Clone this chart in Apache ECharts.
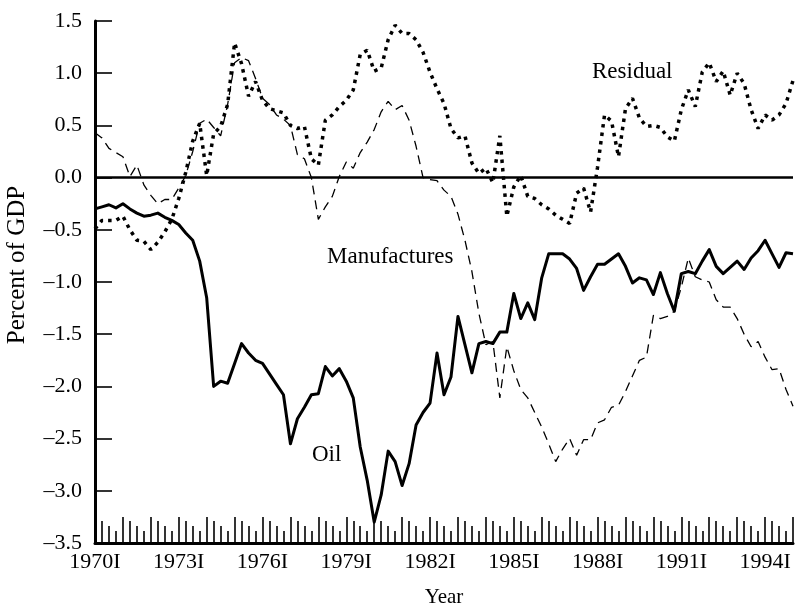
<!DOCTYPE html>
<html>
<head>
<meta charset="utf-8">
<script src="https://cdn.jsdelivr.net/npm/echarts@6/dist/echarts.min.js"></script>
<style>
html,body{margin:0;padding:0;background:#fff;}
#chart{width:804px;height:612px;}
</style>
</head>
<body>
<div id="chart"></div>
<script>
// Quarterly observations, 1970Q1 .. 1995Q1 (index 0..100)
var startYear = 1970;
var tickLabelYears = [1970, 1973, 1976, 1979, 1982, 1985, 1988, 1991, 1994];

var oil = [
 -0.30,-0.28,-0.26,-0.29,-0.25,-0.30,-0.34,-0.37,-0.36,-0.34,
 -0.38,-0.41,-0.45,-0.53,-0.60,-0.80,-1.15,-2.00,-1.95,-1.97,
 -1.78,-1.59,-1.68,-1.75,-1.78,-1.88,-1.98,-2.08,-2.55,-2.31,
 -2.20,-2.08,-2.07,-1.81,-1.90,-1.83,-1.95,-2.11,-2.58,-2.90,
 -3.30,-3.04,-2.62,-2.72,-2.95,-2.74,-2.37,-2.25,-2.16,-1.68,
 -2.08,-1.91,-1.33,-1.60,-1.87,-1.59,-1.57,-1.59,-1.48,-1.48,
 -1.11,-1.35,-1.20,-1.36,-0.96,-0.73,-0.73,-0.73,-0.78,-0.87,
 -1.08,-0.95,-0.83,-0.83,-0.78,-0.73,-0.85,-1.01,-0.96,-0.98,
 -1.12,-0.91,-1.11,-1.28,-0.92,-0.90,-0.92,-0.80,-0.69,-0.85,
 -0.92,-0.86,-0.80,-0.88,-0.77,-0.70,-0.60,-0.73,-0.86,-0.72,
 -0.73
];

var residual = [
 -0.49,-0.41,-0.41,-0.41,-0.37,-0.50,-0.60,-0.61,-0.69,-0.62,
 -0.52,-0.40,-0.20, 0.05, 0.35, 0.52, 0.02, 0.42, 0.49, 0.70,
  1.29, 1.09, 0.78, 0.92, 0.74, 0.66, 0.64, 0.62, 0.50, 0.47,
  0.49, 0.18, 0.12, 0.55, 0.60, 0.68, 0.74, 0.84, 1.18, 1.22,
  1.02, 1.05, 1.32, 1.46, 1.38, 1.38, 1.32, 1.20, 1.01, 0.85,
  0.71, 0.47, 0.38, 0.40, 0.14, 0.04, 0.09,-0.05, 0.40,-0.37,
 -0.09, 0.02,-0.18,-0.20,-0.26,-0.30,-0.36,-0.40,-0.44,-0.15,
 -0.10,-0.33, 0.10, 0.60, 0.54, 0.20, 0.66, 0.76, 0.57, 0.49,
  0.50, 0.48, 0.39, 0.35, 0.65, 0.84, 0.68, 1.01, 1.10, 0.92,
  1.02, 0.79, 1.00, 0.90, 0.65, 0.47, 0.60, 0.55, 0.60, 0.71,
  0.93
];

var manufactures = [
  0.43, 0.38, 0.28, 0.24, 0.20, 0.01, 0.12,-0.07,-0.17,-0.25,
 -0.21,-0.21,-0.10, 0.02, 0.25, 0.52, 0.56, 0.48, 0.40, 0.70,
  1.10, 1.15, 1.12, 0.95, 0.76, 0.70, 0.60, 0.56, 0.50, 0.22,
  0.18, 0.00,-0.40,-0.28,-0.18, 0.01, 0.15, 0.09, 0.24, 0.34,
  0.46, 0.63, 0.73, 0.65, 0.69, 0.55, 0.30, 0.00,-0.02,-0.03,
 -0.12,-0.18,-0.35,-0.60,-0.90,-1.30,-1.60,-1.57,-2.11,-1.62,
 -1.85,-2.03,-2.11,-2.25,-2.39,-2.55,-2.72,-2.60,-2.50,-2.66,
 -2.51,-2.51,-2.35,-2.32,-2.20,-2.18,-2.05,-1.90,-1.75,-1.72,
 -1.32,-1.35,-1.33,-1.28,-1.05,-0.77,-0.95,-0.98,-1.00,-1.17,
 -1.24,-1.24,-1.35,-1.50,-1.62,-1.57,-1.72,-1.84,-1.83,-2.03,
 -2.19
];

var seriesNames = ['Oil', 'Residual', 'Manufactures'];

var FONT = '"Liberation Serif", "DejaVu Serif", serif';
var nQ = oil.length;
var maxIdx = nQ - 1;

function toPairs(arr){ return arr.map(function(v,i){ return [i, v]; }); }
function ticksWhere(rem){
  var out = [];
  for (var i = 0; i <= maxIdx; i++) if (i % 4 === rem) out.push(i);
  return out;
}
var labelIdx = tickLabelYears.map(function(y){ return (y - startYear) * 4; });

function subAxis(rem, len){
  return {
    type: 'value', min: 0, max: maxIdx, position: 'bottom', offset: 0,
    axisLine: {show: false, onZero: false},
    splitLine: {show: false},
    axisLabel: {show: false},
    axisTick: {show: true, inside: true, length: len, customValues: ticksWhere(rem),
      lineStyle: {color: '#000', width: 1.6}}
  };
}

var chart = echarts.init(document.getElementById('chart'), null, {renderer: 'canvas'});
chart.setOption({
  backgroundColor: '#fff',
  animation: false,
  grid: {left: 95, right: 11, top: 21, bottom: 69, containLabel: false, outerBoundsMode: 'none'},
  xAxis: [
    {
      type: 'value', min: 0, max: maxIdx, position: 'bottom', offset: 0,
      name: 'Year', nameLocation: 'middle', nameGap: 44,
      nameTextStyle: {fontFamily: FONT, fontSize: 21, color: '#000'},
      axisLine: {show: true, onZero: false, lineStyle: {color: '#000', width: 3}},
      splitLine: {show: false},
      axisTick: {show: true, inside: true, length: 26, customValues: ticksWhere(0),
        lineStyle: {color: '#000', width: 1.6}},
      axisLabel: {show: true, customValues: labelIdx, margin: 8,
        fontFamily: FONT, fontSize: 22, color: '#000',
        formatter: function(v){ return (startYear + Math.round(v) / 4) + 'I'; }}
    },
    subAxis(1, 22),
    subAxis(2, 17),
    subAxis(3, 12)
  ],
  yAxis: {
    type: 'value', min: -3.5, max: 1.5, interval: 0.5,
    axisLine: {show: true, onZero: false, lineStyle: {color: '#000', width: 3}},
    splitLine: {show: false},
    axisTick: {show: true, inside: true, length: 17, lineStyle: {color: '#000', width: 1.6}},
    axisLabel: {margin: 13, fontFamily: FONT, fontSize: 22, color: '#000',
      formatter: function(v){ return (v < 0 ? '\u2013' : '') + Math.abs(v).toFixed(1); }}
  },
  series: [
    {
      name: seriesNames[0], type: 'line', data: toPairs(oil), symbol: 'none',
      lineStyle: {color: '#000', width: 3, join: 'round'},
      markLine: {silent: true, symbol: 'none', label: {show: false},
        lineStyle: {color: '#000', width: 2.6, type: 'solid'},
        data: [{yAxis: 0}]}
    },
    {
      name: seriesNames[1], type: 'line', data: toPairs(residual), symbol: 'none',
      lineStyle: {color: '#000', width: 3.5, type: [3.5, 5]}
    },
    {
      name: seriesNames[2], type: 'line', data: toPairs(manufactures), symbol: 'none',
      lineStyle: {color: '#000', width: 1.3, type: [9, 6]}
    }
  ],
  graphic: [
    {type: 'text', x: 17, y: 265, rotation: Math.PI / 2,
      style: {text: 'Percent of GDP', font: '25px ' + FONT, fill: '#000', align: 'center', verticalAlign: 'middle'}},
    {type: 'text', left: 592, top: 60, style: {text: 'Residual', font: '23px ' + FONT, fill: '#000'}},
    {type: 'text', left: 327, top: 245, style: {text: 'Manufactures', font: '23px ' + FONT, fill: '#000'}},
    {type: 'text', left: 312, top: 443, style: {text: 'Oil', font: '23px ' + FONT, fill: '#000'}}
  ]
});
</script>
</body>
</html>
